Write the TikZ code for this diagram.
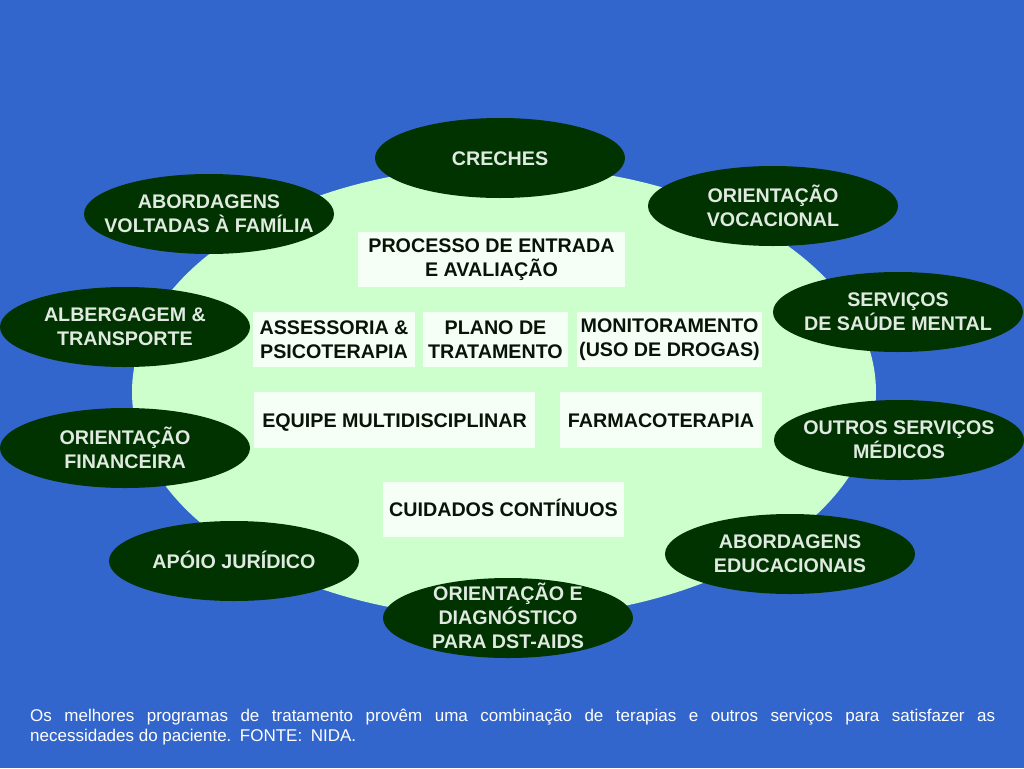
\documentclass[tikz,border=0pt]{standalone}
\usepackage{fontspec}
\setmainfont{Liberation Sans}
\definecolor{bgblue}{RGB}{51,102,204}
\definecolor{lightg}{RGB}{204,255,204}
\definecolor{darkg}{RGB}{0,51,0}
\definecolor{ovtxt}{RGB}{224,234,224}
\definecolor{boxw}{RGB}{246,255,246}
\definecolor{boxtxt}{RGB}{8,20,8}
\begin{document}
\begin{tikzpicture}[x=1pt,y=-1pt,
  oval/.style={fill=darkg},
  ovaltext/.style={text=ovtxt, font={\fontsize{19.7}{24}\selectfont\bfseries}, align=center, inner sep=0pt},
  boxnode/.style={fill=boxw, text=boxtxt, font={\fontsize{19.7}{24}\selectfont\bfseries}, align=center, inner sep=0pt, minimum height=55pt},
  oneline/.style={text height=14.2pt, text depth=0pt},
  foottext/.style={text=white, font={\fontsize{17}{20}\selectfont}, inner sep=0pt, anchor=base west}]
\fill[bgblue] (0,0) rectangle (1024,768);
\useasboundingbox (0,0) rectangle (1024,768);
% central light-green ellipse
\fill[lightg] (504,392) ellipse [x radius=372pt, y radius=226pt];
% white boxes
\node[boxnode, minimum width=267pt] (proc) at (491.5,259.5) {PROCESSO DE ENTRADA\\E AVALIAÇÃO};
\node[boxnode, minimum width=162pt] (assess) at (334,339.5) {ASSESSORIA \&\\PSICOTERAPIA};
\node[boxnode, minimum width=145pt] (plano) at (495.5,339.5) {PLANO DE\\TRATAMENTO};
\node[boxnode, minimum width=185pt] (monit) at (669.5,339.5) {MONITORAMENTO\\(USO DE DROGAS)};
\node[boxnode, oneline, minimum width=281pt, minimum height=56pt] (equipe) at (394.5,420) {EQUIPE MULTIDISCIPLINAR};
\node[boxnode, oneline, minimum width=202pt, minimum height=56pt] (farm) at (661,420) {FARMACOTERAPIA};
\node[boxnode, oneline, minimum width=241pt] (cuid) at (503.5,509.5) {CUIDADOS CONTÍNUOS};
% dark ellipses
\coordinate (c1) at (500,158);
\coordinate (c2) at (773,206);
\coordinate (c3) at (209,214);
\coordinate (c4) at (125,327);
\coordinate (c5) at (898,312);
\coordinate (c6) at (125,448);
\coordinate (c7) at (899,440);
\coordinate (c8) at (234,561);
\coordinate (c9) at (508,618);
\coordinate (c10) at (790,554);
\foreach \n in {c1,c2,c3,c4,c5,c6,c7,c8,c9,c10}
  {\fill[oval] (\n) ellipse [x radius=125pt, y radius=40pt];}
\node[ovaltext, oneline] (creches) at (c1) {CRECHES};
\node[ovaltext] (vocac) at (c2) {ORIENTAÇÃO\\VOCACIONAL};
\node[ovaltext] (familia) at (c3) {ABORDAGENS\\VOLTADAS À FAMÍLIA};
\node[ovaltext] (alberg) at (c4) {ALBERGAGEM \&\\TRANSPORTE};
\node[ovaltext] (saude) at (c5) {SERVIÇOS\\DE SAÚDE MENTAL};
\node[ovaltext] (financ) at (c6) {ORIENTAÇÃO\\FINANCEIRA};
\node[ovaltext] (medicos) at (c7) {OUTROS SERVIÇOS\\MÉDICOS};
\node[ovaltext, oneline] (jurid) at (c8) {APÓIO JURÍDICO};
\node[ovaltext, yshift=2pt] (dst) at (c9) {ORIENTAÇÃO E\\DIAGNÓSTICO\\PARA DST-AIDS};
\node[ovaltext] (educ) at (c10) {ABORDAGENS\\EDUCACIONAIS};
% footer
\node[foottext] (foot1) at (30,721) {\makebox[965pt][s]{Os melhores programas de tratamento provêm uma combinação de terapias e outros serviços para satisfazer as}};
\node[foottext] (foot2) at (30,741) {necessidades do paciente.\hspace{0.5em}FONTE:\hspace{0.5em}NIDA.};
\end{tikzpicture}
\end{document}
